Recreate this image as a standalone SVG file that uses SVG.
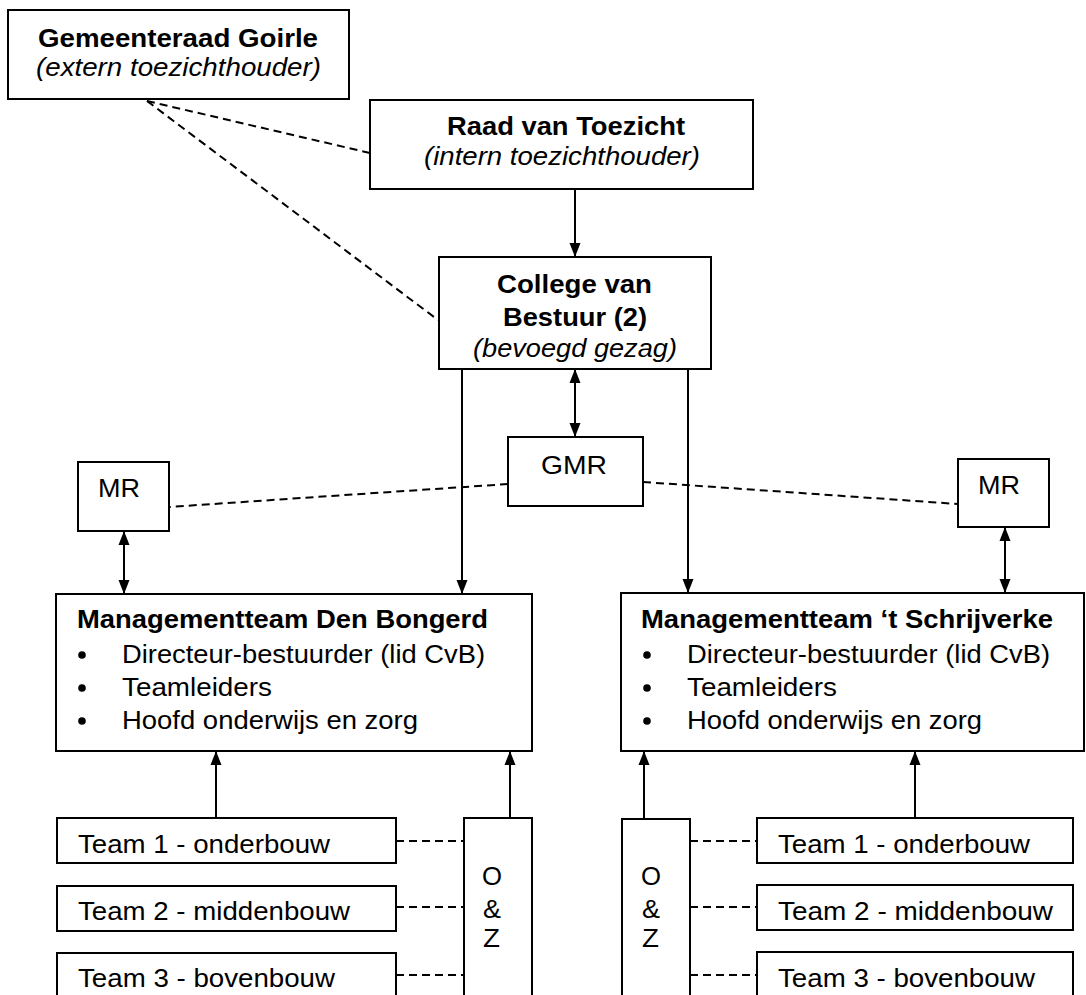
<svg xmlns="http://www.w3.org/2000/svg" width="1086" height="995" viewBox="0 0 1086 995">
<defs>
<style>
.box{fill:#fff;stroke:#000;stroke-width:2}
.t{font-family:"Liberation Sans",Arial,sans-serif;font-size:25px;fill:#000}
.b{font-weight:700}
.i{font-style:italic}
.ln{stroke:#000;stroke-width:2;fill:none}
.ds{stroke:#000;stroke-width:2;fill:none;stroke-dasharray:8 5}
</style>
<marker id="ah" viewBox="0 0 14 12" refX="14" refY="6" markerWidth="14" markerHeight="12" markerUnits="userSpaceOnUse" orient="auto-start-reverse">
<path d="M0,0.5 L14,6 L0,11.5 z" fill="#000"/>
</marker>
</defs>
<rect width="1086" height="995" fill="#fff"/>

<g id="connectors">
<line class="ds" x1="147" y1="101" x2="370" y2="153"/>
<line class="ds" x1="147" y1="101" x2="438" y2="320"/>
<line class="ds" x1="508" y1="484" x2="169" y2="507"/>
<line class="ds" x1="643" y1="482" x2="958" y2="504"/>
<line class="ln" x1="575" y1="189" x2="575" y2="257" marker-end="url(#ah)"/>
<line class="ln" x1="575" y1="369" x2="575" y2="437" marker-start="url(#ah)" marker-end="url(#ah)"/>
<line class="ln" x1="462" y1="369" x2="462" y2="594" marker-end="url(#ah)"/>
<line class="ln" x1="688" y1="369" x2="688" y2="593" marker-end="url(#ah)"/>
<line class="ln" x1="124" y1="531" x2="124" y2="594" marker-start="url(#ah)" marker-end="url(#ah)"/>
<line class="ln" x1="1005" y1="527" x2="1005" y2="593" marker-start="url(#ah)" marker-end="url(#ah)"/>
<line class="ln" x1="216" y1="818" x2="216" y2="751" marker-end="url(#ah)"/>
<line class="ln" x1="510" y1="818" x2="510" y2="751" marker-end="url(#ah)"/>
<line class="ln" x1="644" y1="819" x2="644" y2="751" marker-end="url(#ah)"/>
<line class="ln" x1="915" y1="819" x2="915" y2="751" marker-end="url(#ah)"/>
<line class="ds" x1="396" y1="841" x2="464" y2="841"/>
<line class="ds" x1="396" y1="907" x2="464" y2="907"/>
<line class="ds" x1="396" y1="975" x2="464" y2="975"/>
<line class="ds" x1="690" y1="841" x2="757" y2="841"/>
<line class="ds" x1="690" y1="907" x2="757" y2="907"/>
<line class="ds" x1="690" y1="975" x2="757" y2="975"/>
</g>

<g id="gemeenteraad">
<rect class="box" x="8" y="10" width="341" height="89"/>
<text class="t b" x="38" y="47" textLength="280" lengthAdjust="spacingAndGlyphs">Gemeenteraad Goirle</text>
<text class="t i" x="36" y="76" textLength="285" lengthAdjust="spacingAndGlyphs">(extern toezichthouder)</text>
</g>

<g id="raad">
<rect class="box" x="370" y="100" width="383" height="89"/>
<text class="t b" x="447" y="135" textLength="238" lengthAdjust="spacingAndGlyphs">Raad van Toezicht</text>
<text class="t i" x="424" y="165" textLength="276" lengthAdjust="spacingAndGlyphs">(intern toezichthouder)</text>
</g>

<g id="college">
<rect class="box" x="439" y="257" width="272" height="112"/>
<text class="t b" x="497" y="293" textLength="155" lengthAdjust="spacingAndGlyphs">College van</text>
<text class="t b" x="503" y="326" textLength="144" lengthAdjust="spacingAndGlyphs">Bestuur (2)</text>
<text class="t i" x="473" y="357" textLength="204" lengthAdjust="spacingAndGlyphs">(bevoegd gezag)</text>
</g>

<g id="gmr">
<rect class="box" x="508" y="437" width="135" height="69"/>
<text class="t" x="541" y="474" textLength="66" lengthAdjust="spacingAndGlyphs">GMR</text>
</g>

<g id="mr-left">
<rect class="box" x="78" y="462" width="91" height="69"/>
<text class="t" x="98" y="497" textLength="42" lengthAdjust="spacingAndGlyphs">MR</text>
</g>

<g id="mr-right">
<rect class="box" x="958" y="459" width="91" height="68"/>
<text class="t" x="978" y="494" textLength="42" lengthAdjust="spacingAndGlyphs">MR</text>
</g>

<g id="mt-bongerd">
<rect class="box" x="56" y="594" width="476" height="157"/>
<text class="t b" x="77" y="628" textLength="411" lengthAdjust="spacingAndGlyphs">Managementteam Den Bongerd</text>
<circle cx="82" cy="655" r="3.8"/>
<circle cx="82" cy="688" r="3.8"/>
<circle cx="82" cy="721" r="3.8"/>
<text class="t" x="122" y="663" textLength="363" lengthAdjust="spacingAndGlyphs">Directeur-bestuurder (lid CvB)</text>
<text class="t" x="122" y="696" textLength="150" lengthAdjust="spacingAndGlyphs">Teamleiders</text>
<text class="t" x="122" y="729" textLength="296" lengthAdjust="spacingAndGlyphs">Hoofd onderwijs en zorg</text>
</g>

<g id="mt-schrijverke">
<rect class="box" x="621" y="593" width="463" height="158"/>
<text class="t b" x="641" y="628" textLength="412" lengthAdjust="spacingAndGlyphs">Managementteam ‘t Schrijverke</text>
<circle cx="647" cy="655" r="3.8"/>
<circle cx="647" cy="688" r="3.8"/>
<circle cx="647" cy="721" r="3.8"/>
<text class="t" x="687" y="663" textLength="363" lengthAdjust="spacingAndGlyphs">Directeur-bestuurder (lid CvB)</text>
<text class="t" x="687" y="696" textLength="150" lengthAdjust="spacingAndGlyphs">Teamleiders</text>
<text class="t" x="687" y="729" textLength="295" lengthAdjust="spacingAndGlyphs">Hoofd onderwijs en zorg</text>
</g>

<g id="left-team1">
<rect class="box" x="57" y="818" width="339" height="45"/>
<text class="t" x="78" y="853" textLength="252" lengthAdjust="spacingAndGlyphs">Team 1 - onderbouw</text>
</g>
<g id="left-team2">
<rect class="box" x="57" y="886" width="339" height="45"/>
<text class="t" x="78" y="920" textLength="272" lengthAdjust="spacingAndGlyphs">Team 2 - middenbouw</text>
</g>
<g id="left-team3">
<rect class="box" x="57" y="953" width="339" height="60"/>
<text class="t" x="78" y="987" textLength="257" lengthAdjust="spacingAndGlyphs">Team 3 - bovenbouw</text>
</g>
<g id="left-oz">
<rect class="box" x="464" y="818" width="68" height="200"/>
<text class="t" x="482" y="885" textLength="20" lengthAdjust="spacingAndGlyphs">O</text>
<text class="t" x="483" y="918" textLength="18" lengthAdjust="spacingAndGlyphs">&amp;</text>
<text class="t" x="483" y="947" textLength="17" lengthAdjust="spacingAndGlyphs">Z</text>
</g>

<g id="right-oz">
<rect class="box" x="622" y="819" width="68" height="200"/>
<text class="t" x="641" y="885" textLength="20" lengthAdjust="spacingAndGlyphs">O</text>
<text class="t" x="642" y="918" textLength="18" lengthAdjust="spacingAndGlyphs">&amp;</text>
<text class="t" x="642" y="947" textLength="17" lengthAdjust="spacingAndGlyphs">Z</text>
</g>
<g id="right-team1">
<rect class="box" x="757" y="818" width="316" height="45"/>
<text class="t" x="778" y="853" textLength="252" lengthAdjust="spacingAndGlyphs">Team 1 - onderbouw</text>
</g>
<g id="right-team2">
<rect class="box" x="757" y="885" width="316" height="45"/>
<text class="t" x="778" y="920" textLength="275" lengthAdjust="spacingAndGlyphs">Team 2 - middenbouw</text>
</g>
<g id="right-team3">
<rect class="box" x="757" y="952" width="316" height="60"/>
<text class="t" x="778" y="987" textLength="257" lengthAdjust="spacingAndGlyphs">Team 3 - bovenbouw</text>
</g>
</svg>
